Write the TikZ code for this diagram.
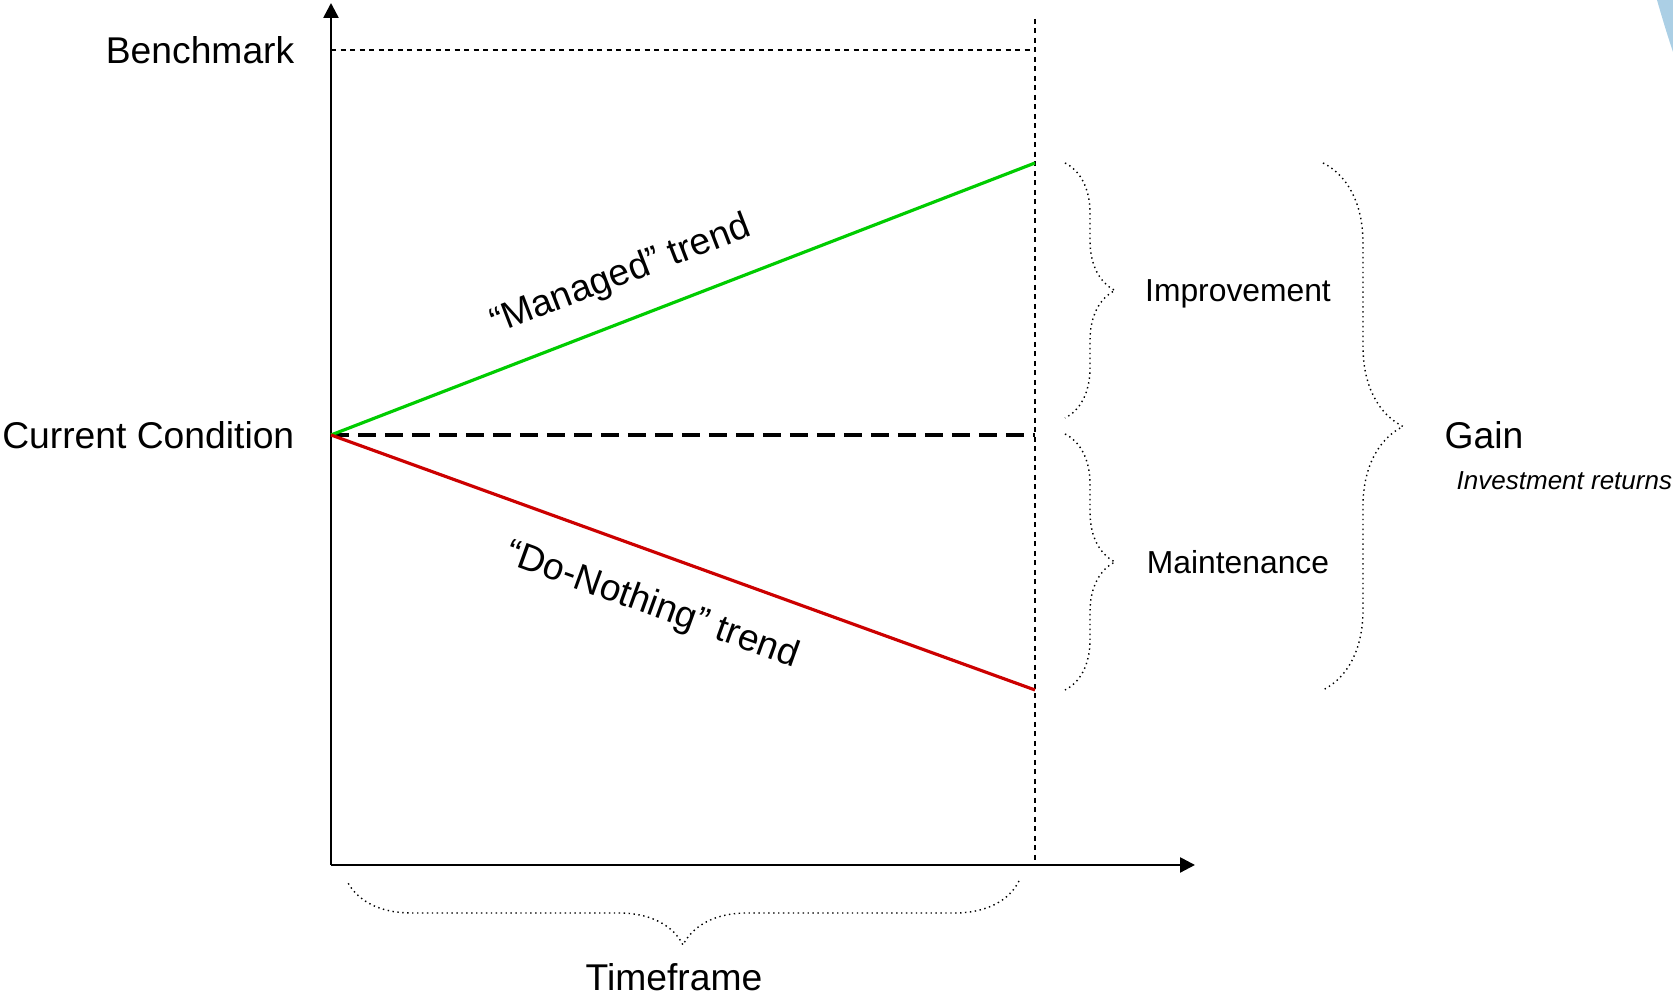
\documentclass[tikz,border=0pt]{standalone}
\usepackage{fontspec}
\setmainfont{Liberation Sans}
\usetikzlibrary{arrows.meta, decorations.pathreplacing}
\definecolor{managedgreen}{RGB}{0,204,0}
\definecolor{nothingred}{RGB}{204,0,0}
\definecolor{arcblue}{RGB}{171,207,229}

\begin{document}
\begin{tikzpicture}[
        lbl/.style={inner sep=0pt, text height=0.72em, text depth=0pt, font=\fontsize{10.6}{12.7}\selectfont},
        part/.style={inner sep=0pt, text height=0.72em, text depth=0pt, font=\fontsize{9.05}{11}\selectfont},
        note/.style={inner sep=0pt, text height=0.72em, text depth=0pt, font=\fontsize{7.4}{9}\selectfont\itshape},
        axis/.style={line width=0.7pt, -{Triangle[length=0.15cm,width=0.15cm]}},
        thindash/.style={line width=0.4pt, dash pattern=on 0.05cm off 0.045cm},
        bracebox/.style={decorate, densely dotted, line width=0.4pt}
    ]
        \useasboundingbox (0,0) rectangle (16.73,9.97);

        % corner of the slide background
        \fill[arcblue] (16.57,9.97) .. controls (16.63,9.76) and (16.68,9.6) .. (16.73,9.45) -- (16.73,9.97) -- cycle;

        % Points of the chart
        \coordinate (o) at (3.31,1.32);
        \coordinate (ytip) at (3.31,9.94);
        \coordinate (xtip) at (11.95,1.32);
        \coordinate (cur) at (3.31,5.62);
        \coordinate (bm) at (3.31,9.47);
        \coordinate (bmend) at (10.35,9.47);
        \coordinate (curend) at (10.35,5.62);
        \coordinate (gend) at (10.35,8.34);
        \coordinate (rend) at (10.35,3.07);
        \coordinate (vtop) at (10.35,9.78);
        \coordinate (vbot) at (10.35,1.32);

        % Axes
        \draw[axis] (o) -- (ytip);
        \draw[axis] (o) -- (xtip);

        % Reference lines
        \draw[thindash] (bm) -- (bmend);
        \draw[thindash] (vtop) -- (vbot);
        \draw[line width=1.1pt, dash pattern=on 0.18cm off 0.09cm] (cur) -- (curend);

        % Trends
        \draw[managedgreen, line width=0.9pt] (cur) -- (gend);
        \draw[nothingred, line width=0.9pt] (cur) -- (rend);

        % Axis labels
        \node[lbl, anchor=east] (bench) at (2.95,9.46) {Benchmark};
        \node[lbl, anchor=east] (cond) at (2.95,5.61) {Current Condition};
        \node[lbl, rotate=21.1] (managed) at (6.20,7.24) {“Managed” trend};
        \node[lbl, rotate=-19.9] (nothing) at (6.53,3.94) {“Do-Nothing” trend};

        % Braces
        \draw[bracebox, decoration={brace, amplitude=0.5cm}] (10.65,8.34) -- (10.65,5.79);
        \draw[bracebox, decoration={brace, amplitude=0.5cm}] (10.65,5.63) -- (10.65,3.07);
        \draw[bracebox, decoration={brace, amplitude=0.8cm}] (13.23,8.34) -- (13.23,3.07);
        \draw[bracebox, decoration={brace, amplitude=0.64cm}] (10.19,1.16) -- (3.47,1.16);

        \node[part] (impr) at (12.38,7.08) {Improvement};
        \node[part] (maint) at (12.38,4.36) {Maintenance};
        \node[lbl, anchor=west] (gain) at (14.44,5.61) {Gain};
        \node[note, anchor=west] (returns) at (14.56,5.20) {Investment returns};
        \node[lbl] (time) at (6.74,0.19) {Timeframe};
    \end{tikzpicture}
\end{document}
